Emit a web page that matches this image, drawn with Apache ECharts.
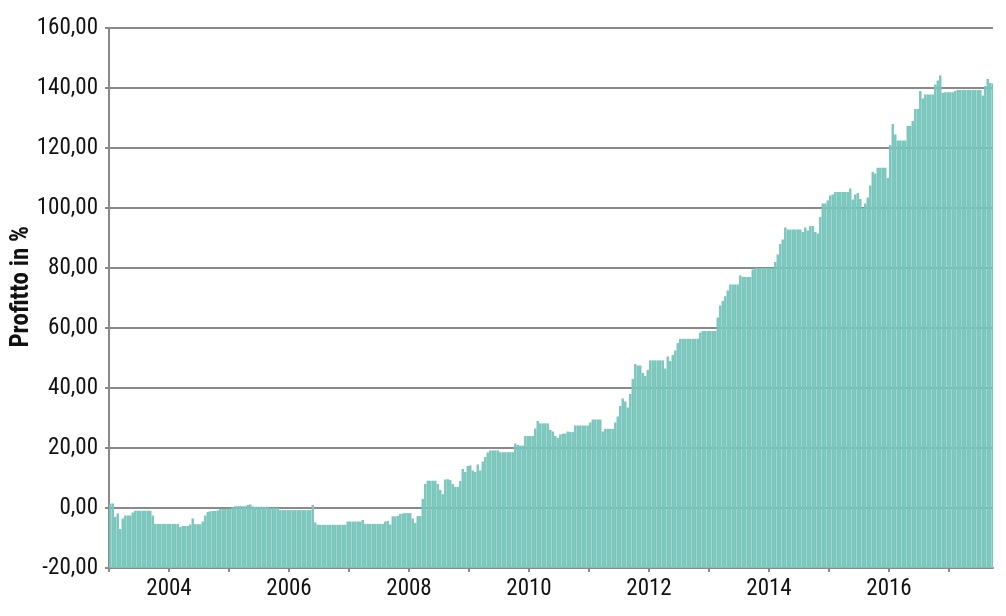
<!DOCTYPE html>
<html>
<head>
<meta charset="utf-8">
<script src="https://cdn.jsdelivr.net/npm/echarts@6/dist/echarts.min.js"></script>
<style>
html,body{margin:0;padding:0;background:#fff;}
#chart{width:1006px;height:616px;}
</style>
</head>
<body>
<div id="chart"></div>
<script>
// Half-monthly profit values (%) per year
var y2003 = [1.5,1.5,-3,-1.8,-7,-3.5,-2.5,-2.5,-2.5,-1.5,-0.9,-0.9,-0.9,-0.9,-0.9,-0.9,-0.9,-2.5,-5.3,-5.3,-5.3,-5.3,-5.3,-5.3];
var y2004 = [-5.3,-5.3,-5.3,-5.3,-6.3,-6,-6,-6,-5.5,-3.5,-5.4,-5.4,-5.4,-4.5,-2.5,-1.3,-1.1,-1.0,-1.0,-0.8,-0.3,-0.3,-0.3,-0.3];
var y2005 = [-0.2,0.2,0.6,0.6,0.6,0.6,0.6,1.0,1.2,0.5,0.4,0.4,0.4,0.4,0.4,0.4,0.0,0.0,0.0,0.0,-0.7,-0.7,-0.7,-0.7];
var y2006 = [-0.7,-0.7,-0.7,-0.7,-0.7,-0.7,-0.7,-0.7,-0.7,1.0,-4.8,-5.6,-5.6,-5.6,-5.6,-5.6,-5.6,-5.6,-5.6,-5.6,-5.6,-5.6,-5.6,-4.5];
var y2007 = [-4.5,-4.5,-4.5,-4.5,-4.5,-4.0,-5.3,-5.3,-5.3,-5.3,-5.3,-5.3,-5.3,-5.3,-4.5,-4.3,-5.5,-2.8,-2.8,-2.6,-2.0,-1.8,-1.7,-1.7];
var y2008 = [-1.7,-3.5,-5,-2.7,-2.7,3,8,9.1,9.1,9.1,9.1,8,6,4.6,9.5,9.6,9.3,8,7,7,9,13,12,14];
var y2009 = [14.2,12.5,12,14.5,12.5,15.5,17,18.5,19.2,19.2,19.2,19.2,18.6,18.6,18.6,18.6,18.6,18.6,21.5,21,20.8,20.8,24,24];
var y2010 = [24,24,26.5,29,28.2,28.2,28.2,28.2,26,25.5,24,23.4,24.5,24.8,24.8,25.5,25.3,25.3,27.5,27.5,27.5,27.5,27.5,27.5];
var y2011 = [28.5,29.5,29.5,29.5,29.5,25.5,26.4,26.4,26.4,26.4,28.5,30.5,34,36.5,35.5,33.5,38,43,48,47.5,47.5,45,44,46];
var y2012 = [49.2,49.2,49.2,49.2,49.2,49.2,46.5,50.5,49,51,52.5,55,56.4,56.4,56.4,56.4,56.4,56.4,56.4,56.4,58.5,59,59,59];
var y2013 = [59,59,59,63.5,67.5,69,70.6,72.5,74.5,74.5,74.5,74.5,77.5,77,77,77,77,79.5,80,80,80,80,80,80];
var y2014 = [80,80,82,84.5,88,89.5,93.5,92.8,92.8,92.8,92.8,92.8,92.8,92,93.5,92.5,94,94,92,91.5,97,101.5,101.5,102.5];
var y2015 = [104.2,104.5,105.3,105.3,105.3,105.3,105.3,105.3,106.5,102.8,104.5,105,103,100,101.5,103.5,107.5,112,111.5,113.4,113.4,113.4,113.4,110];
var y2016 = [121,128,124.5,122.5,122.5,122.5,122.5,127.3,127.3,129,133,133,139,136.5,137.8,137.8,137.8,137.8,141.2,142.5,144.2,138.4,138.6,138.6];
var y2017 = [138.6,138.6,139,139.3,139.3,139.3,139.3,139.3,139.3,139.3,139.3,139.3,139.3,137.5,140.7,143,141.7,141.5];

var years = [2003,2004,2005,2006,2007,2008,2009,2010,2011,2012,2013,2014,2015,2016,2017];
var yearValues = [y2003,y2004,y2005,y2006,y2007,y2008,y2009,y2010,y2011,y2012,y2013,y2014,y2015,y2016,y2017];
var yearTicks = [2003,2004,2005,2006,2007,2008,2009,2010,2011,2012,2013,2014,2015,2016,2017];
var yearLabels = [2004,2006,2008,2010,2012,2014,2016];
var STEPS = 24;

var data = [];
years.forEach(function (yr, i) {
  yearValues[i].forEach(function (v, k) {
    data.push([yr + (k + 0.5) / STEPS, v]);
  });
});

var FONT = '"Liberation Sans Narrow", "Roboto Condensed", "DejaVu Sans Condensed", sans-serif';
var GRAY = '#8a8a8a';
var BAR = '#79c6bc';
var YMIN = -20;

var chart = echarts.init(document.getElementById('chart'), null, {renderer: 'canvas'});
chart.setOption({
  animation: false,
  backgroundColor: '#ffffff',
  grid: {left: 109, right: 13, top: 28, bottom: 48, containLabel: false},
  xAxis: {
    type: 'value',
    min: 2003,
    max: 2017.733,
    interval: 1,
    axisLine: {show: true, onZero: false, lineStyle: {color: GRAY, width: 2}},
    axisTick: {show: true, length: 4, lineStyle: {color: GRAY, width: 2}, customValues: yearTicks},
    axisLabel: {
      color: '#111', fontFamily: FONT, fontSize: 23, margin: 10,
      customValues: yearLabels,
      formatter: function (v) { return String(Math.round(v)); }
    },
    splitLine: {show: false}
  },
  yAxis: {
    type: 'value',
    min: -20,
    max: 160,
    interval: 20,
    axisLine: {show: true, onZero: false, lineStyle: {color: GRAY, width: 2}},
    axisTick: {show: true, length: 4, lineStyle: {color: GRAY, width: 2}},
    axisLabel: {
      color: '#111', fontFamily: FONT, fontSize: 23, margin: 11,
      formatter: function (v) { return v.toFixed(2).replace('.', ','); }
    },
    splitLine: {show: true, lineStyle: {color: GRAY, width: 2}}
  },
  graphic: [{
    type: 'text',
    left: 9,
    top: 226,
    rotation: Math.PI / 2,
    style: {
      text: 'Profitto in %',
      fontFamily: FONT,
      fontWeight: 'bold',
      fontSize: 25,
      fill: '#111'
    }
  }],
  series: [{
    type: 'custom',
    clip: true,
    data: data,
    encode: {x: 0, y: 1},
    renderItem: function (params, api) {
      var x = api.value(0), v = api.value(1);
      var half = 0.5 / STEPS * 0.96;
      var pTop = api.coord([x - half, v]);
      var pBot = api.coord([x + half, YMIN]);
      return {
        type: 'rect',
        shape: {x: pTop[0], y: pTop[1], width: pBot[0] - pTop[0], height: pBot[1] - pTop[1]},
        style: {fill: BAR}
      };
    }
  }]
});
</script>
</body>
</html>
